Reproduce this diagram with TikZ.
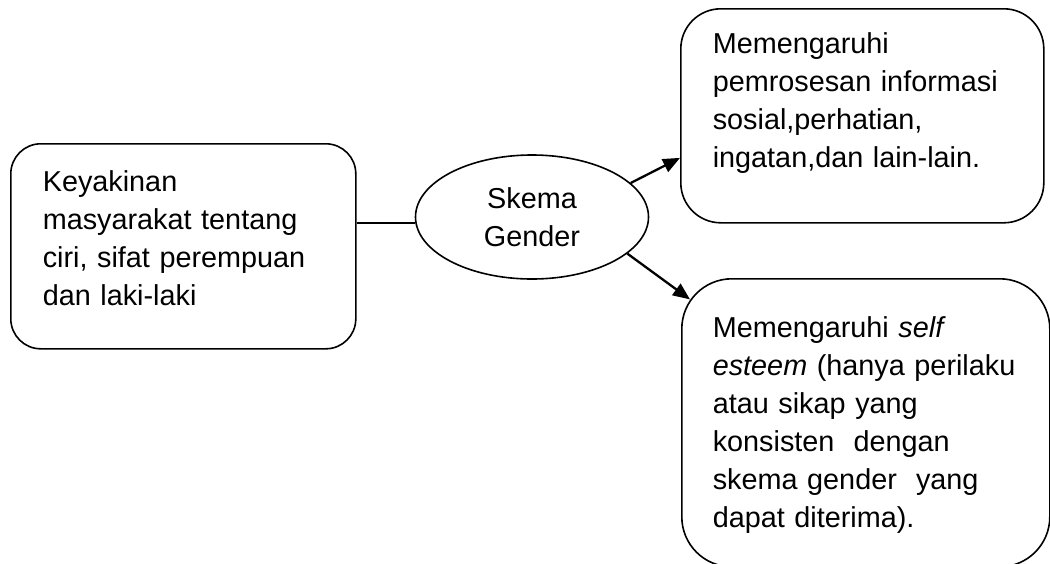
\documentclass[tikz,border=0pt]{standalone}
\usepackage{fontspec}
\setmainfont{Liberation Sans}
\usepackage{tikz}
\usetikzlibrary{positioning,
                arrows.meta,                % arrow tips
                shapes.geometric}           % ellipse shape

\tikzset{
  kotak/.style={draw, rounded corners=#1, line width=1.6pt, align=left,
                anchor=north west, inner xsep=32pt, inner ysep=20pt},
  panah/.style={line width=2.3pt, -{Triangle[length=17pt,width=14pt]}},
}

\begin{document}
\begin{tikzpicture}[x=1pt, y=-1pt, font=\fontsize{28.8}{38}\selectfont]
        \useasboundingbox (0,0) rectangle (1050,563);

        \node[kotak=30pt, text width=281pt, text height=28pt, text depth=137pt] (keyakinan) at (10,143)
            {Keyakinan\\ masyarakat tentang\\ ciri, sifat perempuan\\ dan laki-laki};
        \node[ellipse, draw, line width=1.6pt, minimum width=233pt, minimum height=124pt,
              align=center] (skema) at (532,217) {Skema\\ Gender};
        \node[kotak=40pt, text width=299pt, text height=25pt, text depth=149pt] (pengaruh1) at (680,8)
            {Memengaruhi\\ pemrosesan informasi\\ sosial,perhatian,\\ ingatan,dan lain-lain.};
        \node[kotak=50pt, inner xsep=31pt, text width=306pt, text height=39pt, text depth=209pt] (pengaruh2) at (681,278)
            {Memengaruhi \textit{self}\\ \textit{esteem} (hanya perilaku\\ atau sikap yang\\
             konsisten~ dengan\\ skema gender~ yang\\ dapat diterima).};

        \draw[line width=1.6pt] (keyakinan.east |- skema.183) -- (skema.183);
        \draw[panah] (skema.19) -- (pengaruh1.193);
        \draw[panah] (skema.-21) -- ([xshift=9pt, yshift=-6pt]pengaruh2.145);
\end{tikzpicture}
\end{document}
